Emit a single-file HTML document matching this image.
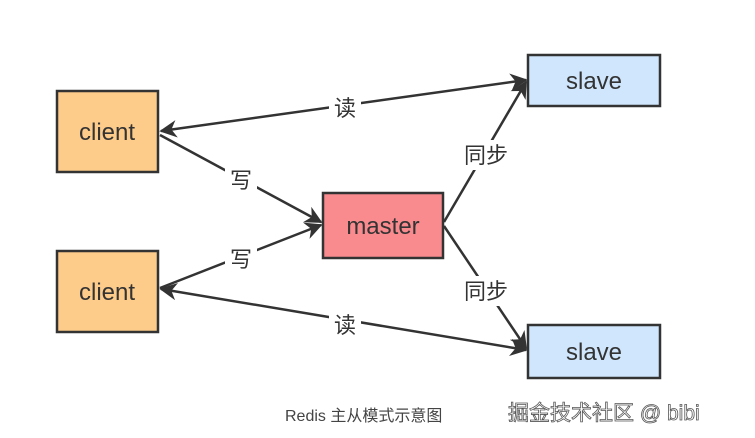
<!DOCTYPE html>
<html><head><style>
body{margin:0;width:755px;height:438px;background:#fff;overflow:hidden;font-family:"Liberation Sans","Noto Sans CJK SC",sans-serif}
</style></head><body>
<svg width="755" height="438" xmlns="http://www.w3.org/2000/svg" style="position:absolute;left:0;top:0">
<defs><marker id="a" viewBox="0 0 10 10" refX="9" refY="5" markerWidth="7" markerHeight="7" orient="auto-start-reverse"><path d="M0,0 L10,5 L0,10 L3,5 z" fill="#333"/></marker></defs>
<g stroke="#333" stroke-width="2.5" fill="none">
<line x1="161" y1="131" x2="526" y2="80" marker-start="url(#a)" marker-end="url(#a)"/>
<line x1="161" y1="289" x2="526" y2="350" marker-start="url(#a)" marker-end="url(#a)"/>
<line x1="160" y1="135" x2="321" y2="222" marker-end="url(#a)"/>
<line x1="160" y1="288" x2="321" y2="225" marker-end="url(#a)"/>
<line x1="444" y1="222" x2="526" y2="82" marker-end="url(#a)"/>
<line x1="444" y1="226" x2="526" y2="348" marker-end="url(#a)"/>
</g>
<g stroke="#333" stroke-width="2.5">
<rect x="57" y="91" width="101" height="81" fill="#fdcb8a"/>
<rect x="57" y="251" width="101" height="81" fill="#fdcb8a"/>
<rect x="323" y="193" width="120" height="65" fill="#f98b8f"/>
<rect x="528" y="55" width="132" height="51" fill="#cfe6fc"/>
<rect x="528" y="325" width="132" height="53" fill="#cfe6fc"/>
</g>
<g font-size="24" fill="#333" text-anchor="middle" font-family="Liberation Sans,sans-serif">
<text x="107" y="140">client</text>
<text x="107" y="300">client</text>
<text x="383" y="234">master</text>
<text x="594" y="89">slave</text>
<text x="594" y="360">slave</text>
</g>
<g font-size="22" fill="#333" text-anchor="middle" font-family="Noto Sans CJK SC,sans-serif">
<rect x="329" y="94" width="32" height="28" fill="#fff"/><text x="345" y="116">读</text>
<rect x="329" y="311" width="32" height="28" fill="#fff"/><text x="345" y="333">读</text>
<rect x="225" y="165" width="32" height="28" fill="#fff"/><text x="241" y="188">写</text>
<rect x="225" y="245" width="32" height="28" fill="#fff"/><text x="241" y="267">写</text>
<rect x="459" y="140" width="54" height="30" fill="#fff"/><text x="486" y="163">同步</text>
<rect x="459" y="276" width="54" height="30" fill="#fff"/><text x="486" y="299">同步</text>
</g>
<text x="285" y="421" font-size="16" fill="#444" font-family="Liberation Sans,Noto Sans CJK SC,sans-serif">Redis 主从模式示意图</text>
<text x="508" y="420" font-size="21" fill="#fff" stroke="#555" stroke-width="0.8" font-family="Liberation Sans,Noto Sans CJK SC,sans-serif">掘金技术社区 @ bibi</text>
</svg>
</body></html>
